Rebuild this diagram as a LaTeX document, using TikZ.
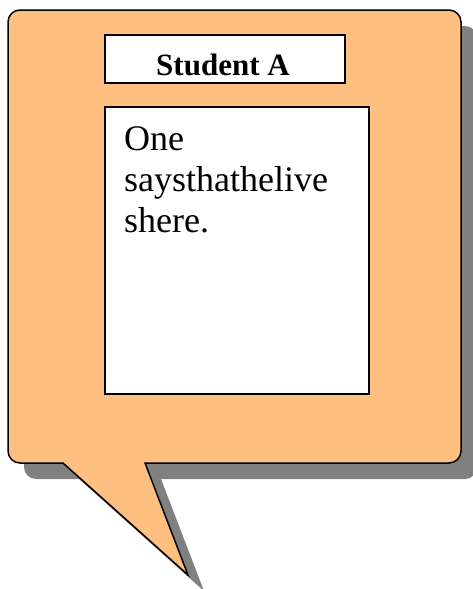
\documentclass[tikz,border=0pt]{standalone}
\usepackage{fontspec}
\setmainfont{Liberation Serif}
\usepackage{tikz}
\usetikzlibrary{positioning, calc}
\definecolor{bubbleorange}{RGB}{255, 191, 128}
\definecolor{shadowgray}{RGB}{128, 128, 128}

\tikzset{
  whitebox/.style={draw=black, fill=white, line width=2pt, inner sep=0pt, anchor=north west},
  bubblepath/.style={line width=1.5pt, rounded corners=12pt}
}

\begin{document}
\begin{tikzpicture}[x=1pt, y=-1pt]
  \useasboundingbox (0,0) rectangle (472,589);

  % Shadow of the speech bubble
  \fill[shadowgray, rounded corners=12pt, shift={(16,16)}] (8,200) -- (8,10) -- (461,10) -- (461,463)
    [sharp corners] -- (145,463) -- (188,575) -- (63,463) [rounded corners=12pt] -- (8,463) -- cycle;

  % Speech bubble
  \draw[bubblepath, fill=bubbleorange] (8,200) -- (8,10) -- (461,10) -- (461,463)
    [sharp corners] -- (145,463) -- (188,575) -- (63,463) [rounded corners=12pt] -- (8,463) -- cycle;

  % Name box
  \node[whitebox, minimum width=240pt, minimum height=48pt] (namebox) at (104,34) {};
  \node[anchor=base, font=\fontsize{31}{31}\selectfont\bfseries] (namelabel) at ([xshift=-2pt, yshift=9pt]namebox.south) {Student A};

  % Speech box
  \node[whitebox, minimum width=264pt, minimum height=287pt] (speechbox) at (104,106) {};
  \node[anchor=north west, inner sep=0pt, align=left, font=\fontsize{36}{41}\selectfont] (speech) at ([xshift=20pt, yshift=-20pt]speechbox.north west) {One\\saysthathelive\\shere.};
\end{tikzpicture}
\end{document}
